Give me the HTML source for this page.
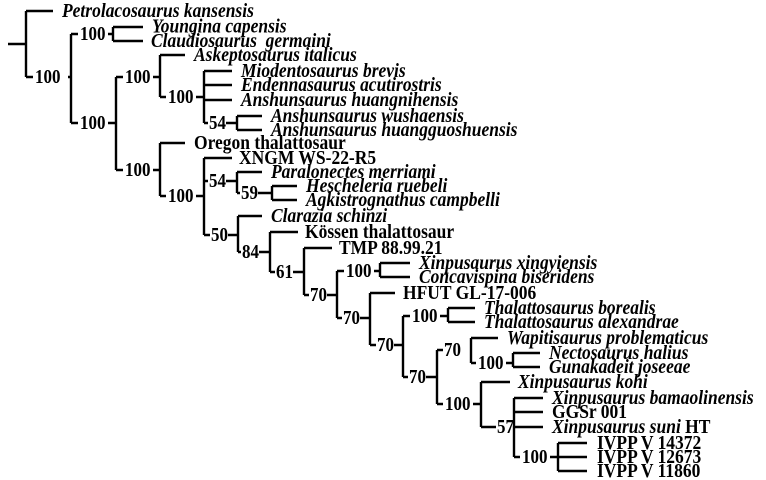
<!DOCTYPE html>
<html><head><meta charset="utf-8"><style>
html,body{margin:0;padding:0;background:#fff;}
svg{display:block;}
text{font-family:"Liberation Serif",serif;font-weight:bold;fill:#000;transform-box:fill-box;transform-origin:center;transform:scaleY(1.15);}
.l{font-size:17.5px;}
.i{font-style:italic;}
.s{font-size:17px;}
</style></head><body>
<svg width="766" height="480" viewBox="0 0 766 480" xmlns="http://www.w3.org/2000/svg">
<g stroke="#000" stroke-width="2.4" fill="none">
<path d="M8 44H26M26 11V77M26 11H53"/>
<path d="M26 77H33M68 77H71"/>
<path d="M71 34V123M71 34H78M108 34H113M71 123H78M108 123H116"/>
<path d="M113 27V41M113 27H143M113 41H143"/>
<path d="M116 77V170M116 77H123M153 77H160M116 170H123M153 170H160"/>
<path d="M160 55V97M160 55H185M160 97H166M196 97H204"/>
<path d="M204 71V123M204 71H232M204 85H232M204 100H232M204 123H208M226 123H237"/>
<path d="M237 116V130M237 116H262M237 130H262"/>
<path d="M160 143V196M160 143H185M160 196H166M196 196H204"/>
<path d="M204 158V235M204 158H232M204 181H208M226 181H237M204 235H210M228 235H238"/>
<path d="M237 172V193M237 172H262M237 193H240M258 193H272"/>
<path d="M272 186V200M272 186H297M272 200H297"/>
<path d="M238 216V252M238 216H262M238 252H241M259 252H270"/>
<path d="M270 232V272M270 232H298M270 272H275M293 272H304"/>
<path d="M304 248V295M304 248H332M304 295H309M327 295H337"/>
<path d="M337 271V318M337 271H344M374 271H380M337 318H342M360 318H370"/>
<path d="M380 263V277M380 263H410M380 277H410"/>
<path d="M370 293V345M370 293H395M370 345H376M394 345H403"/>
<path d="M403 316V377M403 316H410M440 316H448M403 377H408M426 377H437"/>
<path d="M448 308V322M448 308H475M448 322H475"/>
<path d="M437 350V404M437 350H443M437 404H443M473 404H481"/>
<path d="M471 338V363M471 338H498M471 363H476M506 363H513"/>
<path d="M513 353V367M513 353H540M513 367H540"/>
<path d="M481 382V427M481 382H510M481 427H496"/>
<path d="M514 398V457M514 398H543M514 412H543M514 427H543M514 457H520M550 457H558"/>
<path d="M558 443V471M558 443H587M558 457H587M558 471H587"/>
</g>
<g class="s">
<text x="35" y="82">100</text>
<text x="80" y="39">100</text>
<text x="80" y="128">100</text>
<text x="125" y="82">100</text>
<text x="125" y="175">100</text>
<text x="168" y="102">100</text>
<text x="168" y="201">100</text>
<text x="209" y="128">54</text>
<text x="209" y="186">54</text>
<text x="211" y="240">50</text>
<text x="241" y="198">59</text>
<text x="242" y="257">84</text>
<text x="276" y="277">61</text>
<text x="310" y="300">70</text>
<text x="346" y="276">100</text>
<text x="343" y="323">70</text>
<text x="377" y="350">70</text>
<text x="412" y="321">100</text>
<text x="409" y="382">70</text>
<text x="444" y="355">70</text>
<text x="445" y="409">100</text>
<text x="478" y="368">100</text>
<text x="497" y="432">57</text>
<text x="522" y="462">100</text>
</g>
<g class="l">
<text class="i" x="62" y="16">Petrolacosaurus kansensis</text>
<text class="i" x="152" y="32">Youngina capensis</text>
<text class="i" x="151" y="46" xml:space="preserve">Claudiosaurus  germaini</text>
<text class="i" x="194" y="60">Askeptosaurus italicus</text>
<text class="i" x="241" y="76">Miodentosaurus brevis</text>
<text class="i" x="241" y="90">Endennasaurus acutirostris</text>
<text class="i" x="241" y="105">Anshunsaurus huangnihensis</text>
<text class="i" x="271" y="121">Anshunsaurus wushaensis</text>
<text class="i" x="271" y="135">Anshunsaurus huangguoshuensis</text>
<text x="194" y="148">Oregon thalattosaur</text>
<text x="239" y="163">XNGM WS-22-R5</text>
<text class="i" x="271" y="177">Paralonectes merriami</text>
<text class="i" x="306" y="191">Hescheleria ruebeli</text>
<text class="i" x="306" y="205">Agkistrognathus campbelli</text>
<text class="i" x="271" y="221">Clarazia schinzi</text>
<text x="305" y="237">Kössen thalattosaur</text>
<text x="339" y="253">TMP 88.99.21</text>
<text class="i" x="419" y="268">Xinpusaurus xingyiensis</text>
<text class="i" x="419" y="282">Concavispina biseridens</text>
<text x="403" y="298">HFUT GL-17-006</text>
<text class="i" x="484" y="313">Thalattosaurus borealis</text>
<text class="i" x="484" y="327">Thalattosaurus alexandrae</text>
<text class="i" x="507" y="343">Wapitisaurus problematicus</text>
<text class="i" x="549" y="358">Nectosaurus halius</text>
<text class="i" x="549" y="372">Gunakadeit joseeae</text>
<text class="i" x="518" y="387">Xinpusaurus kohi</text>
<text class="i" x="552" y="403">Xinpusaurus bamaolinensis</text>
<text x="552" y="417">GGSr 001</text>
<text x="552" y="432"><tspan class="i">Xinpusaurus suni</tspan> HT</text>
<text x="597" y="448">IVPP V 14372</text>
<text x="597" y="462">IVPP V 12673</text>
<text x="597" y="476">IVPP V 11860</text>
</g>
</svg>
</body></html>
